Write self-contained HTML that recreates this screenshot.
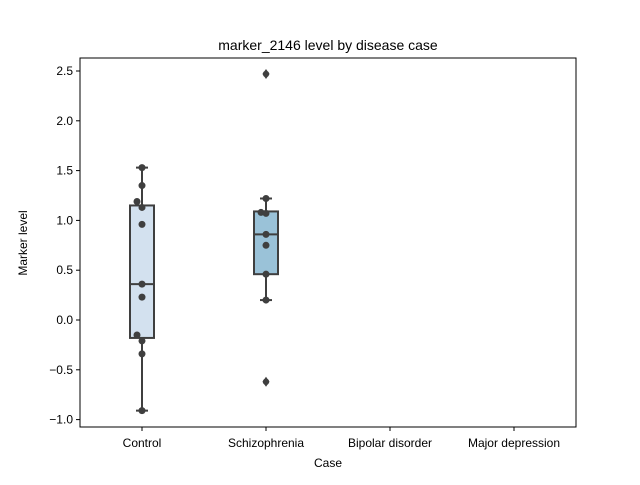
<!DOCTYPE html>
<html><head><meta charset="utf-8"><style>
body{margin:0;background:#fff;}
svg text{font-family:"Liberation Sans","DejaVu Sans",sans-serif;fill:#000;}
</style></head><body>
<svg id="c" width="640" height="480" viewBox="0 0 640 480">
<rect x="0" y="0" width="640" height="480" fill="#fff"/>
<text x="328" y="50" font-size="14" text-anchor="middle">marker_2146 level by disease case</text>
<text x="328" y="467" font-size="12" text-anchor="middle">Case</text>
<text x="0" y="0" font-size="12" text-anchor="middle" transform="translate(27,243) rotate(-90)">Marker level</text>
<g id="g"></g>
<rect x="80" y="58" width="496" height="369" fill="none" stroke="#000" stroke-width="1"/>
</svg>
<script>
const categories=["Control","Schizophrenia","Bipolar disorder","Major depression"];
const boxQ1=[-0.18,0.46,null,null];
const boxMedian=[0.36,0.86,null,null];
const boxQ3=[1.15,1.09,null,null];
const whiskerLow=[-0.91,0.20,null,null];
const whiskerHigh=[1.53,1.22,null,null];
const outliers=[[],[2.47,-0.62]];
const pointValues=[[1.53,1.35,1.19,1.13,0.96,0.36,0.23,-0.15,-0.21,-0.34,-0.91],[1.22,1.08,1.07,0.86,0.75,0.46,0.20]];
const pointJitter=[[0,0,-1,0,0,0,0,-1,0,0,0],[0,-1,0,0,0,0,0]];
const yTicks=[-1.0,-0.5,0.0,0.5,1.0,1.5,2.0,2.5];
const fills=["#d3e1ef","#9ac2d8","#5a9bc6","#2d6ea8"];
const X0=80,X1=576,Y0=58,Y1=427;
const y=v=>320-v*99.6;
const band=(X1-X0)/categories.length;
const x=i=>X0+band*(i+0.5);
const g=document.getElementById('g');
const NS="http://www.w3.org/2000/svg";
function mk(t,a){const e=document.createElementNS(NS,t);for(const k in a)e.setAttribute(k,a[k]);g.appendChild(e);return e;}
yTicks.forEach(v=>{
 const l=mk('line',{x1:X0-4,x2:X0,y1:y(v),y2:y(v),stroke:'#000'});
 
 
 const t=mk('text',{x:X0-7,y:y(v)+4,'font-size':12,'text-anchor':'end'});t.textContent=v.toFixed(1).replace('-','−');
 
 
});
categories.forEach((c,i)=>{
 const l=mk('line',{x1:x(i),x2:x(i),y1:Y1,y2:Y1+4,stroke:'#000'});
 
 
 const t=mk('text',{x:x(i),y:Y1+20,'font-size':12,'text-anchor':'middle'});t.textContent=c;
 
 
 if(boxQ1[i]==null)return;
 const cx=x(i),w=12,s='#3f3f3f';
 const wl=mk('line',{x1:cx,x2:cx,y1:y(whiskerLow[i]),y2:y(whiskerHigh[i]),stroke:s,'stroke-width':2});
 
 
 [whiskerLow[i],whiskerHigh[i]].forEach(v=>{const cap=mk('line',{x1:cx-6,x2:cx+6,y1:y(v),y2:y(v),stroke:s,'stroke-width':2});
  
  });
 const b=mk('rect',{x:cx-w,y:y(boxQ3[i]),width:2*w,height:y(boxQ1[i])-y(boxQ3[i]),fill:fills[i],stroke:s,'stroke-width':2});
 
 
 const m=mk('line',{x1:cx-w,x2:cx+w,y1:y(boxMedian[i]),y2:y(boxMedian[i]),stroke:s,'stroke-width':2});
 
 
 outliers[i].forEach(v=>{const d=mk('path',{d:`M${cx},${y(v)-5}L${cx+3.5},${y(v)}L${cx},${y(v)+5}L${cx-3.5},${y(v)}Z`,fill:s});
  
  
  const p=mk('circle',{cx:cx,cy:y(v),r:3.2,fill:s});
  
  });
 pointValues[i].forEach((v,k)=>{const p=mk('circle',{cx:cx+pointJitter[i][k]*5,cy:y(v),r:3.5,fill:s});
  
  });
});
</script>
</body></html>
